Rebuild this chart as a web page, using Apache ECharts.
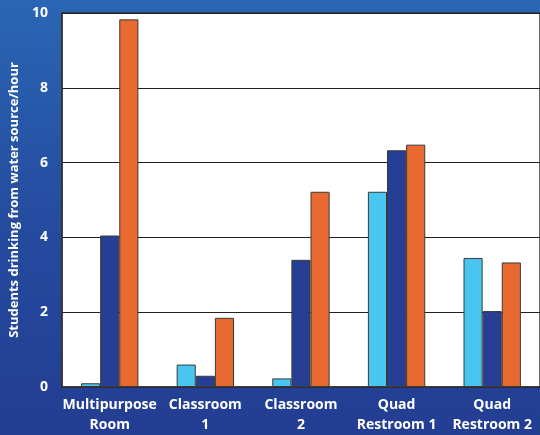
<!DOCTYPE html>
<html>
<head>
<meta charset="utf-8">
<script src="https://cdn.jsdelivr.net/npm/echarts@6/dist/echarts.min.js"></script>
<style>
html,body{margin:0;padding:0;}
#chart{width:540px;height:435px;}
</style>
</head>
<body>
<div id="chart"></div>
<script>
// data
const categories = ['Multipurpose\nRoom', 'Classroom\n1', 'Classroom\n2', 'Quad\nRestroom 1', 'Quad\nRestroom 2'];
const lightBlue = [0.1, 0.6, 0.23, 5.22, 3.45];
const darkBlue = [4.05, 0.3, 3.4, 6.33, 2.03];
const orange = [9.83, 1.85, 5.22, 6.48, 3.33];
const yTicks = [0, 2, 4, 6, 8, 10];

const chart = echarts.init(document.getElementById('chart'));

const barStyle = function (color) {
    return { color: color, borderColor: '#3a3a3a', borderWidth: 1 };
};

chart.setOption({
    backgroundColor: {
        type: 'linear', x: 0, y: 0, x2: 0, y2: 1,
        colorStops: [
            { offset: 0, color: '#2a66b3' },
            { offset: 0.5, color: '#254c9f' },
            { offset: 1, color: '#233d92' }
        ]
    },
    textStyle: { fontFamily: 'Open Sans' },
    grid: { left: 59, right: -9, top: 13, bottom: 48, show: true, backgroundColor: '#fff', borderColor: '#333', borderWidth: 1.5 },
    xAxis: {
        type: 'category',
        data: categories,
        axisLine: { lineStyle: { color: '#333', width: 1.5 } },
        axisTick: { show: false },
        axisLabel: { interval: 0, color: '#fff', fontWeight: 'bold', fontSize: 14, lineHeight: 20, margin: 8 }
    },
    yAxis: {
        type: 'value',
        min: yTicks[0],
        max: yTicks[yTicks.length - 1],
        interval: 2,
        name: 'Students drinking from water source/hour',
        nameLocation: 'middle',
        nameGap: 34,
        nameTextStyle: { color: '#fff', fontWeight: 'bold', fontSize: 13 },
        axisLine: { show: true, lineStyle: { color: '#333', width: 1.5 } },
        axisTick: { show: false },
        axisLabel: { color: '#fff', fontWeight: 'bold', fontSize: 14, margin: 14 },
        splitLine: { lineStyle: { color: '#222', width: 1.2 } }
    },
    series: [
        { type: 'bar', data: lightBlue, itemStyle: barStyle('#48c6f0'), barGap: '0%', barCategoryGap: '40%' },
        { type: 'bar', data: darkBlue, itemStyle: barStyle('#263e93') },
        { type: 'bar', data: orange, itemStyle: barStyle('#e96a30') }
    ]
});
</script>
</body>
</html>
